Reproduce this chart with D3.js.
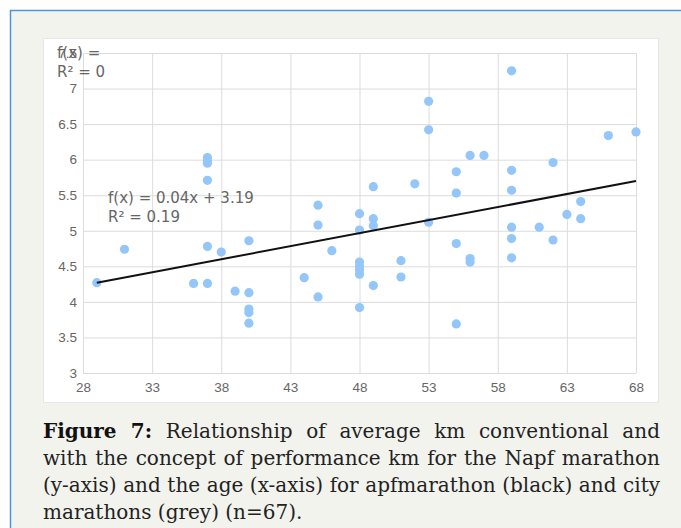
<!DOCTYPE html>
<html>
<head>
<meta charset="utf-8">
<script src="https://cdn.jsdelivr.net/npm/d3@7"></script>
<style>
  body { margin: 0; background: #fff; width: 681px; height: 528px; overflow: hidden; position: relative; }
  #chart { position: absolute; left: 0; top: 0; }
  #caption { position: absolute; left: 43px; top: 418px; width: 617px;
    font-family: "DejaVu Serif", serif; font-size: 20px; line-height: 27px; color: #222; }
  #caption .j { text-align: justify; text-align-last: justify; }
  #caption b { color: #111; }
</style>
</head>
<body>
<div id="chart"></div>
<div id="caption">
  <div class="j"><b>Figure 7:</b> Relationship of average km conventional and</div>
  <div class="j">with the concept of performance km for the Napf marathon</div>
  <div class="j">(y-axis) and the age (x-axis) for apfmarathon (black) and city</div>
  <div>marathons (grey) (n=67).</div>
</div>
<script>
// ages (x) and km values (y)
const ages = [29, 31, 36, 37, 37, 37, 37, 37, 37, 38, 39, 40, 40, 40, 40, 40,
  44, 45, 45, 45, 46, 48, 48, 48, 48, 48, 48, 48, 49, 49, 49, 49, 51, 51, 52,
  53, 53, 53, 55, 55, 55, 55, 56, 57, 56, 56, 59, 59, 59, 59, 59, 59, 61, 62,
  62, 63, 64, 64, 66, 68];
const kmValues = [4.27, 4.74, 4.26, 6.03, 5.98, 5.95, 5.71, 4.78, 4.26, 4.70, 4.15, 4.86, 4.13, 3.90, 3.85, 3.70,
  4.34, 5.36, 5.08, 4.07, 4.72, 5.24, 5.01, 4.56, 4.50, 4.45, 4.39, 3.92, 5.62, 5.17, 5.07, 4.23, 4.58, 4.35, 5.66,
  6.82, 6.42, 5.12, 5.83, 5.53, 4.82, 3.69, 6.06, 6.06, 4.61, 4.56, 7.25, 5.85, 5.57, 5.05, 4.89, 4.62, 5.05, 5.96,
  4.87, 5.23, 5.41, 5.17, 6.34, 6.39];

const xTicks = [28, 33, 38, 43, 48, 53, 58, 63, 68];
const yTicks = [3, 3.5, 4, 4.5, 5, 5.5, 6, 6.5, 7, 7.5];

// trend line as drawn (label text is rounded)
const trendSlope = 0.0367;
const trendIntercept = 3.205;
const trendRange = [29, 68];
const trendLabel = ['f(x) = 0.04x + 3.19', 'R² = 0.19'];
const emptyLabel = ['f(x) =', 'R² = 0'];

const width = 681, height = 528;
const plot = { left: 83, right: 636, top: 53, bottom: 373 };

const x = d3.scaleLinear().domain([28, 68]).range([plot.left, plot.right]);
const y = d3.scaleLinear().domain([3, 7.5]).range([plot.bottom, plot.top]);

const svg = d3.select('#chart').append('svg')
  .attr('width', width)
  .attr('height', height);

// page panel
svg.append('rect').attr('x', 10).attr('y', 10).attr('width', width - 10).attr('height', height - 10)
  .attr('fill', '#f3f3ee');
svg.append('line').attr('x1', 10).attr('x2', width).attr('y1', 10.5).attr('y2', 10.5)
  .attr('stroke', '#4f93e0').attr('stroke-width', 1.5);
svg.append('line').attr('x1', 10.5).attr('x2', 10.5).attr('y1', 10).attr('y2', height)
  .attr('stroke', '#4f93e0').attr('stroke-width', 1.5);

// white chart box
svg.append('rect').attr('x', 43.5).attr('y', 38.5).attr('width', 615).attr('height', 364)
  .attr('fill', '#fff').attr('stroke', '#e6e6e6');

const xAxis = d3.axisBottom(x).tickValues(xTicks).tickFormat(d3.format('d'))
  .tickSize(-(plot.bottom - plot.top)).tickPadding(9);
const yAxis = d3.axisLeft(y).tickValues(yTicks).tickFormat(d => d)
  .tickSize(-(plot.right - plot.left)).tickPadding(6);

const gx = svg.append('g').attr('transform', `translate(0,${plot.bottom})`).call(xAxis);
const gy = svg.append('g').attr('transform', `translate(${plot.left},0)`).call(yAxis);

[gx, gy].forEach(g => {
  g.select('.domain').remove();
  g.selectAll('.tick line').attr('stroke', '#dcdcdc');
  g.selectAll('.tick text')
    .attr('fill', '#666')
    .style('font-family', '"Liberation Sans", Arial, sans-serif')
    .style('font-size', '13.5px');
});

// points
svg.append('g').selectAll('circle')
  .data(ages.map((a, i) => [a, kmValues[i]]))
  .enter()
  .append('circle')
  .attr('cx', d => x(d[0]))
  .attr('cy', d => y(d[1]))
  .attr('r', 4.6)
  .attr('fill', '#94c6f9');

// trend line
svg.append('line')
  .attr('x1', x(trendRange[0])).attr('y1', y(trendIntercept + trendSlope * trendRange[0]))
  .attr('x2', x(trendRange[1])).attr('y2', y(trendIntercept + trendSlope * trendRange[1]))
  .attr('stroke', '#111').attr('stroke-width', 2);

const labelStyle = sel => sel
  .attr('fill', '#666')
  .style('font-family', '"DejaVu Sans", sans-serif')
  .style('font-size', '15px');

svg.append('text').attr('x', 57).attr('y', 58).text(emptyLabel[0]).call(labelStyle);
svg.append('text').attr('x', 57).attr('y', 77).text(emptyLabel[1]).call(labelStyle);
svg.append('text').attr('x', 108).attr('y', 203).text(trendLabel[0]).call(labelStyle);
svg.append('text').attr('x', 108).attr('y', 222).text(trendLabel[1]).call(labelStyle);
</script>
</body>
</html>
